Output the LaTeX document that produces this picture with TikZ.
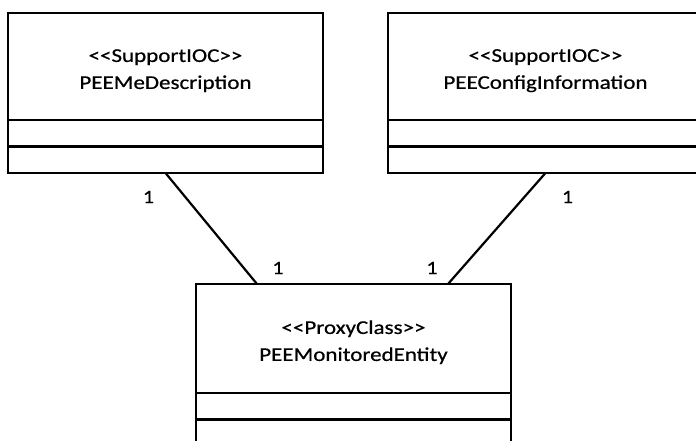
\documentclass[tikz,border=0pt]{standalone}
\usepackage{fontspec}
\setmainfont{Carlito}
\newfontfamily\umlfont{Carlito}[FakeStretch=1.18, FakeBold=0.6]
\usetikzlibrary{positioning,calc}

\newcommand{\stereo}[1]{\rule{0pt}{21pt}<\kern0pt<#1>\kern0pt>}

\tikzset{
  classhead/.style={draw, line width=2.8pt, outer sep=0pt, inner sep=0pt,
    minimum width=315pt, minimum height=107pt, align=center,
    font=\umlfont\fontsize{19.5}{27}\selectfont},
  compart/.style={draw, line width=2.8pt, outer sep=0pt, inner sep=0pt,
    minimum width=315pt, minimum height=26.5pt},
  mult/.style={font=\umlfont\fontsize{19}{20}\selectfont, inner sep=0pt},
  assoc/.style={line width=2.2pt}
}

\begin{document}
\begin{tikzpicture}[x=1pt,y=-1pt]

  \clip (0,0) rectangle (696,441);

        % upper classes
  \node[classhead] (medesc) at (165.5,66.5) {\stereo{SupportIOC}\\PEEMeDescription};
  \node[compart, below=0pt of medesc] (medescA) {};
  \node[compart, below=0pt of medescA] (medescB) {};

  \node[classhead] (config) at (545.5,66.5) {\stereo{SupportIOC}\\PEEConfigInformation};
  \node[compart, below=0pt of config] (configA) {};
  \node[compart, below=0pt of configA] (configB) {};

        % lower class
  \node[classhead, minimum height=109pt] (monitored) at (353.5,338.5) {\stereo{ProxyClass}\\PEEMonitoredEntity};
  \node[compart, below=0pt of monitored] (monitoredA) {};
  \node[compart, below=0pt of monitoredA] (monitoredB) {};

        % associations
  \coordinate (endL) at ($(monitored.north)+(-96.5,0)$);
  \coordinate (endR) at ($(monitored.north)+(94.5,0)$);
  \draw[assoc] (medescB.south) -- (endL);
  \draw[assoc] (configB.south) -- (endR);

  \node[mult] (multA) at ($(medescB.south)+(-17,24)$) {1};
  \node[mult] (multB) at ($(endL)+(21,-16)$) {1};
  \node[mult] (multC) at ($(endR)+(-16,-16)$) {1};
  \node[mult] (multD) at ($(configB.south)+(22,24)$) {1};

\end{tikzpicture}
\end{document}
